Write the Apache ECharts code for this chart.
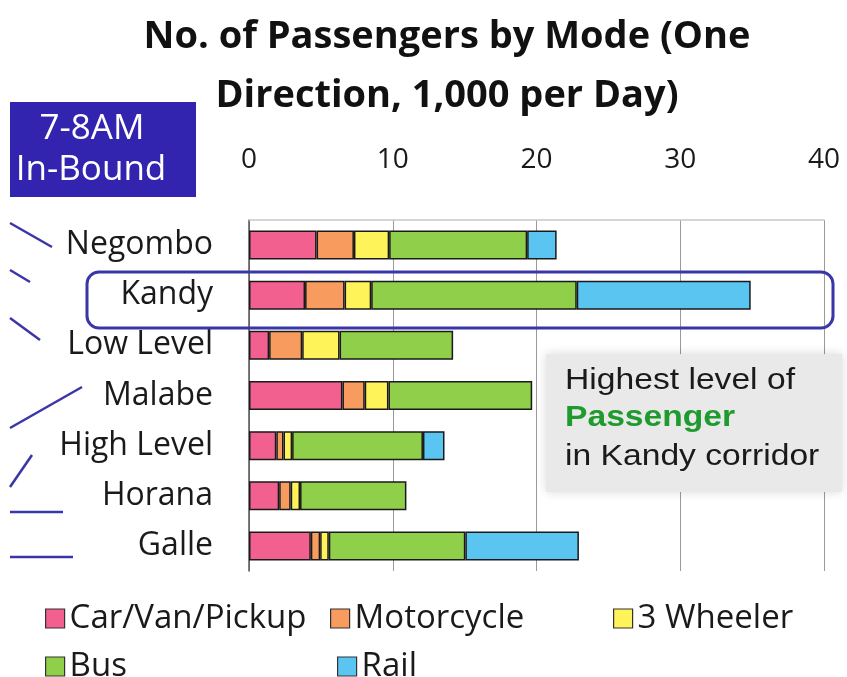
<!DOCTYPE html>
<html>
<head>
<meta charset="utf-8">
<script src="https://cdn.jsdelivr.net/npm/echarts@6/dist/echarts.min.js"></script>
<style>
  html, body { margin: 0; padding: 0; background: #ffffff; }
  #chart { width: 847px; height: 677px; }
</style>
</head>
<body>
<div id="chart"></div>
<script>
// Corridors, top to bottom
const categories = ['Negombo', 'Kandy', 'Low Level', 'Malabe', 'High Level', 'Horana', 'Galle'];

// Passengers per mode, thousands per day, one direction (7-8AM in-bound)
const carVanPickup = [4.7, 3.9, 1.4, 6.5, 1.9, 2.1, 4.3];
const motorcycle   = [2.6, 2.75, 2.3, 1.55, 0.5, 0.8, 0.65];
const threeWheeler = [2.45, 1.85, 2.6, 1.65, 0.6, 0.65, 0.6];
const bus          = [9.6, 14.3, 7.9, 10.0, 9.1, 7.4, 9.5];
const rail         = [2.05, 12.1, null, null, 1.5, null, 7.9];

const seriesNames = ['Car/Van/Pickup', 'Motorcycle', '3 Wheeler', 'Bus', 'Rail'];
const seriesData = [carVanPickup, motorcycle, threeWheeler, bus, rail];
const seriesColors = ['#f2608f', '#f79b5e', '#fff35a', '#8fcf4a', '#5bc5f2'];

// Value axis ticks
const axisMin = 0, axisMax = 40, axisStep = 10;

const FONT = '"Open Sans", Lato, sans-serif';
const NOTE_FONT = '"Liberation Sans", Arial, sans-serif';
const chart = echarts.init(document.getElementById('chart'), null, { renderer: 'canvas' });

// Legend placement: one legend block per mode
const legendSpots = [
  { left: 45, top: 602 }, { left: 330, top: 602 }, { left: 613, top: 602 },
  { left: 45, top: 650 }, { left: 337, top: 650 }
];

const series = seriesNames.map((name, i) => ({
  name: name,
  type: 'bar',
  stack: 'total',
  data: seriesData[i],
  barWidth: 29,
  itemStyle: { color: seriesColors[i], borderColor: '#1a1a1a', borderWidth: 1.5 },
  emphasis: { disabled: true }
}));

// Decorative connector strokes on the left edge
const strokes = [
  [[10, 223], [52, 247]],
  [[10, 270], [30, 282]],
  [[10, 318], [40, 340]],
  [[10, 428], [82, 387]],
  [[10, 487], [32, 455]],
  [[10, 512], [63, 512]],
  [[10, 557], [73, 557]]
];

const graphics = strokes.map(s => ({
  type: 'line',
  shape: { x1: s[0][0], y1: s[0][1], x2: s[1][0], y2: s[1][1] },
  style: { stroke: '#3b36a8', lineWidth: 2.5 },
  z: 10
}));

// Corridor note lines (x, vertical centre, text, colour, weight)
const noteLines = [
  [565, 381, 'Highest level of', '#1a1a1a', 'normal'],
  [565, 418, 'Passenger', '#1f9a2e', 'bold'],
  [565, 457, 'in Kandy corridor', '#1a1a1a', 'normal']
];

graphics.push(
  {
    type: 'rect',
    shape: { x: 10, y: 102, width: 186, height: 95 },
    style: { fill: '#3324b0' },
    z: 10
  },
  {
    type: 'text',
    x: 92, y: 129,
    style: { text: '7-8AM', fill: '#ffffff', font: '35px ' + FONT, align: 'center', verticalAlign: 'middle' },
    z: 11
  },
  {
    type: 'text',
    x: 91, y: 170,
    style: { text: 'In-Bound', fill: '#ffffff', font: '35px ' + FONT, align: 'center', verticalAlign: 'middle' },
    z: 11
  },
  {
    type: 'rect',
    shape: { x: 87, y: 272, width: 746, height: 56, r: 12 },
    style: { fill: 'none', stroke: '#3b36a8', lineWidth: 3 },
    z: 10
  },
  {
    type: 'rect',
    shape: { x: 546, y: 354, width: 296, height: 138 },
    style: { fill: '#e9e9e9', shadowBlur: 10, shadowColor: 'rgba(0,0,0,0.15)' },
    z: 10
  }
);

noteLines.forEach(n => {
  graphics.push({
    type: 'text',
    x: n[0], y: n[1],
    scaleX: 1.16,
    style: {
      text: n[2], fill: n[3],
      font: n[4] + ' 29px ' + NOTE_FONT,
      verticalAlign: 'middle'
    },
    z: 11
  });
});

const option = {
  backgroundColor: '#ffffff',
  animation: false,
  title: {
    text: 'No. of Passengers by Mode (One\nDirection, 1,000 per Day)',
    left: 442,
    textAlign: 'center',
    top: 3,
    textStyle: { fontFamily: FONT, fontWeight: 'bold', fontSize: 38, color: '#111111', lineHeight: 59 }
  },
  legend: legendSpots.map((pos, i) => ({
    data: [seriesNames[i]],
    left: pos.left,
    top: pos.top,
    padding: 0,
    itemWidth: 19,
    itemHeight: 19,
    itemGap: 0,
    icon: 'rect',
    selectedMode: false,
    itemStyle: { borderColor: '#333333', borderWidth: 1.2 },
    textStyle: { fontFamily: FONT, fontSize: 33, color: '#1a1a1a' }
  })),
  grid: { left: 249, right: 23, top: 220, height: 351, containLabel: false },
  xAxis: {
    type: 'value',
    position: 'top',
    min: axisMin,
    max: axisMax,
    interval: axisStep,
    axisLine: { show: true, lineStyle: { color: '#c8c8c8', width: 1.5 } },
    axisTick: { show: false },
    axisLabel: { margin: 46, fontFamily: FONT, fontSize: 28, color: '#1a1a1a' },
    splitLine: { show: true, lineStyle: { color: '#9a9a9a', width: 1 } }
  },
  yAxis: {
    type: 'category',
    data: categories,
    inverse: true,
    axisLine: { show: true, lineStyle: { color: '#555555', width: 1.5 } },
    axisTick: { show: false },
    axisLabel: { margin: 36, fontFamily: FONT, fontSize: 32, color: '#1a1a1a' }
  },
  series: series,
  graphic: graphics
};

chart.setOption(option);
</script>
</body>
</html>
